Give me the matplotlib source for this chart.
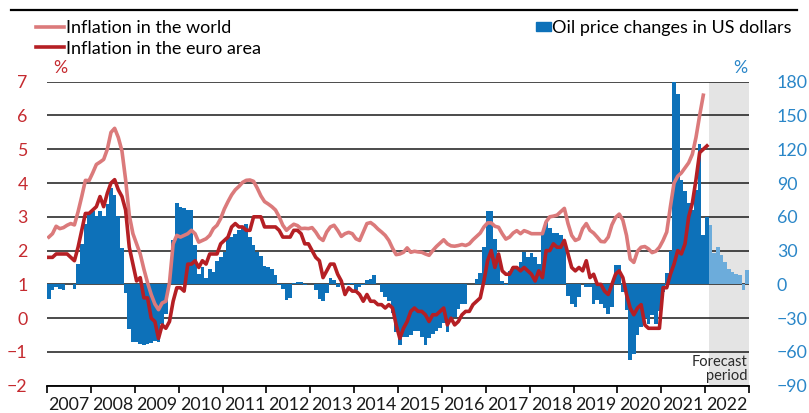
import numpy as np
import matplotlib.pyplot as plt
from matplotlib.lines import Line2D
from matplotlib.patches import Patch

plt.rcParams['font.family'] = ['Lato', 'DejaVu Sans']

years = [str(y) for y in range(2007, 2023)]

# monthly, Jan 2007 - Dec 2021 (% yoy)
world_infl = [
    2.40, 2.50, 2.72, 2.65, 2.68, 2.75, 2.80, 2.76, 3.15, 3.60, 4.08, 4.07,
    4.30, 4.55, 4.62, 4.70, 5.00, 5.50, 5.62, 5.35, 4.95, 4.10, 3.05, 2.50,
    2.20, 1.90, 1.45, 1.05, 0.70, 0.42, 0.25, 0.45, 0.50, 1.05, 2.20, 2.45,
    2.40, 2.45, 2.50, 2.60, 2.50, 2.25, 2.30, 2.35, 2.45, 2.65, 2.75, 2.95,
    3.23, 3.45, 3.65, 3.80, 3.90, 4.02, 4.08, 4.09, 4.05, 3.85, 3.62, 3.45,
    3.38, 3.30, 3.20, 3.00, 2.75, 2.60, 2.70, 2.78, 2.74, 2.65, 2.66, 2.65,
    2.68, 2.55, 2.38, 2.30, 2.55, 2.70, 2.75, 2.60, 2.42, 2.50, 2.54, 2.50,
    2.35, 2.30, 2.55, 2.80, 2.83, 2.75, 2.64, 2.55, 2.45, 2.30, 2.07, 1.88,
    1.90, 1.95, 2.08, 1.95, 1.98, 1.96, 1.95, 1.90, 1.86, 2.00, 2.12, 2.22,
    2.32, 2.20, 2.14, 2.13, 2.15, 2.18, 2.15, 2.20, 2.32, 2.42, 2.52, 2.70,
    2.82, 2.82, 2.72, 2.69, 2.50, 2.34, 2.40, 2.52, 2.59, 2.50, 2.59, 2.55,
    2.50, 2.50, 2.50, 2.50, 2.85, 3.00, 3.02, 3.05, 3.15, 3.25, 2.80, 2.45,
    2.30, 2.35, 2.65, 2.80, 2.60, 2.52, 2.40, 2.27, 2.26, 2.40, 2.76, 2.98,
    3.08, 2.90, 2.45, 1.75, 1.65, 1.98, 2.10, 2.12, 2.05, 1.94, 1.98, 2.10,
    2.30, 2.55, 3.30, 4.00, 4.20, 4.30, 4.45, 4.60, 4.85, 5.35, 6.00, 6.60,
]

# monthly, Jan 2007 - Jan 2022 (% yoy)
euro_infl = [
    1.8, 1.8, 1.9, 1.9, 1.9, 1.9, 1.8, 1.7, 2.1, 2.6, 3.1, 3.1,
    3.2, 3.3, 3.6, 3.3, 3.7, 4.0, 4.1, 3.8, 3.6, 3.2, 2.1, 1.6,
    1.1, 1.2, 0.6, 0.6, 0.0, -0.1, -0.6, -0.2, -0.3, -0.1, 0.5, 0.9,
    0.9, 0.8, 1.6, 1.6, 1.7, 1.5, 1.7, 1.6, 1.9, 1.9, 1.9, 2.2,
    2.3, 2.4, 2.7, 2.8, 2.7, 2.7, 2.6, 2.6, 3.0, 3.0, 3.0, 2.7,
    2.7, 2.7, 2.7, 2.6, 2.4, 2.4, 2.4, 2.6, 2.6, 2.5, 2.2, 2.2,
    2.0, 1.8, 1.7, 1.2, 1.4, 1.6, 1.6, 1.3, 1.1, 0.7, 0.9, 0.8,
    0.8, 0.7, 0.5, 0.7, 0.5, 0.5, 0.4, 0.4, 0.3, 0.4, 0.3, -0.2,
    -0.6, -0.3, -0.1, 0.2, 0.3, 0.2, 0.2, 0.1, -0.1, 0.1, 0.1, 0.2,
    0.3, -0.2, 0.0, -0.2, -0.1, 0.1, 0.2, 0.2, 0.4, 0.5, 0.6, 1.1,
    1.7, 2.0, 1.5, 1.9, 1.4, 1.3, 1.3, 1.5, 1.5, 1.4, 1.5, 1.4,
    1.3, 1.1, 1.4, 1.2, 2.0, 2.0, 2.2, 2.1, 2.1, 2.3, 1.9, 1.5,
    1.4, 1.5, 1.4, 1.7, 1.2, 1.3, 1.0, 1.0, 0.8, 0.7, 1.0, 1.3,
    1.4, 1.2, 0.7, 0.3, 0.1, 0.3, 0.4, -0.2, -0.3, -0.3, -0.3, -0.3,
    0.9, 0.9, 1.3, 1.6, 2.0, 1.9, 2.2, 3.0, 3.4, 4.1, 4.9, 5.0,
    5.1,
]

# monthly, Jan 2007 - Dec 2022 (% yoy), from Feb 2022 forecast
oil_change = [
    -13, -5, -2, -4, -5, 0, 0, -4, 18, 36, 54, 63,
    65, 61, 65, 61, 71, 86, 79, 61, 32, -8, -40, -51,
    -51, -53, -54, -53, -52, -50, -51, -35, -26, 0, 39, 72,
    69, 68, 66, 66, 35, 9, 15, 6, 14, 11, 21, 24,
    29, 42, 42, 45, 48, 51, 54, 42, 35, 29, 25, 16,
    15, 14, 8, -1, -4, -14, -12, 1, 2, 2, -1, 0,
    0, -5, -13, -15, -8, 6, 4, -2, 0, 0, -1, 1,
    -5, -2, -1, 4, 5, 8, 0, -7, -11, -15, -25, -42,
    -54, -47, -47, -45, -41, -41, -47, -54, -48, -44, -41, -39,
    -34, -42, -32, -29, -22, -17, -17, 0, 0, 5, 10, 33,
    65, 65, 40, 21, 3, -1, 12, 15, 15, 20, 29, 24,
    28, 24, 18, 45, 55, 50, 46, 46, 44, 35, -10, -17,
    -20, -11, 0, -2, -2, -17, -14, -17, -21, -26, -20, 17,
    17, -7, -23, -67, -62, -45, -38, -30, -35, -27, -35, -24,
    -7, 10, 30, 180, 169, 93, 83, 72, 66, 84, 125, 44,
    60, 53, 28, 33, 26, 20, 14, 11, 9, 8, -5, 13,
]
forecast_start = 181  # Feb 2022

red_txt = '#c52a2f'
blue_txt = '#2a86c8'
world_col = '#db7a7b'
euro_col = '#b51f24'
bar_col = '#0d71b9'
bar_fc_col = '#6cacdb'
fs = 12.8

fig = plt.figure(figsize=(8.09, 4.13), dpi=100)
ax = fig.add_axes([47 / 809, 1 - 385.7 / 413, 702 / 809, 304 / 413])
ax2 = ax.twinx()
ax.set_zorder(ax2.get_zorder() + 1)
ax.patch.set_visible(False)

m = np.arange(len(oil_change)) + 0.5
ax2.axvspan(forecast_start, len(oil_change), color='#e4e4e4', lw=0, zorder=0)
ax2.bar(m[:forecast_start], oil_change[:forecast_start], width=1.0,
        color=bar_col, lw=0, zorder=2)
ax2.bar(m[forecast_start:], oil_change[forecast_start:], width=1.0,
        color=bar_fc_col, lw=0, zorder=2)
ax2.set_ylim(-90, 180)
ax2.set_yticks(range(-90, 181, 30))
ax2.yaxis.grid(True, color='#1a1a1a', lw=1.1, zorder=1)
ax2.set_axisbelow(True)
ax2.tick_params(axis='y', length=0, pad=20, labelsize=fs, labelcolor=blue_txt)
for lbl in ax2.get_yticklabels():
    lbl.set_horizontalalignment('left')

ax.plot(np.arange(len(world_infl)) + 0.5, world_infl, color=world_col,
        lw=2.6, solid_joinstyle='round')
ax.plot(np.arange(len(euro_infl)) + 0.5, euro_infl, color=euro_col,
        lw=2.6, solid_joinstyle='round')
ax.set_ylim(-2, 7)
ax.set_yticks(range(-2, 8))
ax.tick_params(axis='y', length=0, pad=14, labelsize=fs, labelcolor=red_txt)

ax.set_xlim(0, len(oil_change))
ax.set_xticks(np.arange(0, len(oil_change) + 1, 12))
ax.set_xticklabels([])
ax.set_xticks(np.arange(6, len(oil_change), 12), minor=True)
ax.set_xticklabels(years, minor=True)
ax.tick_params(axis='x', which='major', length=5, width=1.2, color='black')
ax.tick_params(axis='x', which='minor', length=0, pad=8, labelsize=fs,
               labelcolor='#1a1a1a')

for a in (ax, ax2):
    for s in ('top', 'left', 'right'):
        a.spines[s].set_visible(False)
ax2.spines['bottom'].set_visible(False)
ax.spines['bottom'].set_linewidth(1.3)

ax.text(191.6, -1.5, 'Forecast\nperiod', ha='right', va='center',
        fontsize=10.5, color='#2a2a2a', linespacing=1.05)

fig.text(53 / 809, 1 - 68 / 413, '%', color=red_txt, fontsize=fs, va='center')
fig.text(733 / 809, 1 - 68 / 413, '%', color=blue_txt, fontsize=fs, va='center')

fig.add_artist(Line2D([11 / 809, 797 / 809], [1 - 10 / 413] * 2,
                      color='black', lw=1.6))

line_handles = [Line2D([], [], color=world_col, lw=2.6),
                Line2D([], [], color=euro_col, lw=2.6)]
fig.legend(line_handles, ['Inflation in the world', 'Inflation in the euro area'],
           loc='upper left', bbox_to_anchor=(36 / 809, 1 - 20 / 413),
           frameon=False, fontsize=13, handlelength=1.55, handletextpad=0.1,
           labelspacing=0.26, borderpad=0, borderaxespad=0)
fig.legend([Patch(color=bar_col)], ['Oil price changes in US dollars'],
           loc='upper right', bbox_to_anchor=(792 / 809, 1 - 20 / 413),
           frameon=False, fontsize=13, handlelength=0.85, handleheight=0.4,
           handletextpad=0.08, borderpad=0, borderaxespad=0)

fig.savefig('out.png', dpi=100)
